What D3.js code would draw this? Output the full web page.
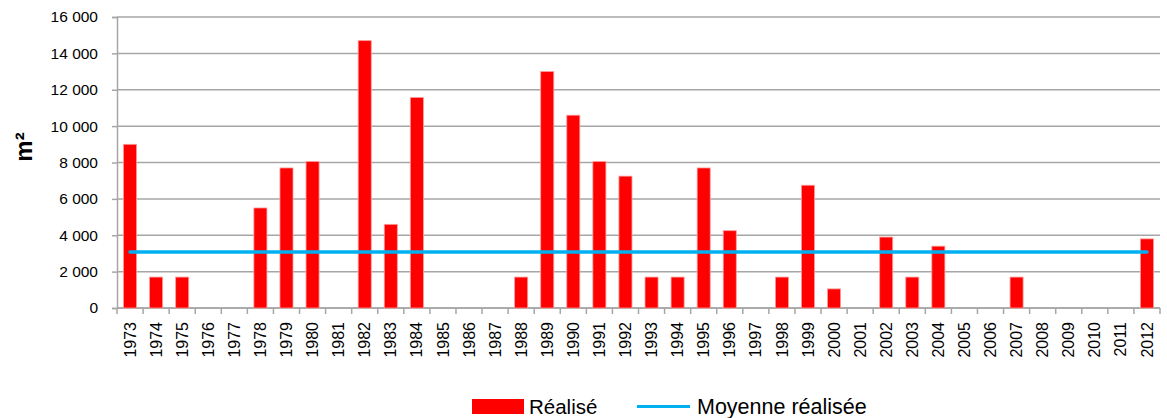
<!DOCTYPE html>
<html><head><meta charset="utf-8">
<script src="https://cdn.jsdelivr.net/npm/d3@7"></script>
<style>body{margin:0;background:#fff}svg{display:block}text{font-family:"Liberation Sans",Arial,sans-serif}</style>
</head><body>
<svg id="c" width="1167" height="418"></svg>
<script>
const years = ["1973","1974","1975","1976","1977","1978","1979","1980","1981","1982","1983","1984","1985","1986","1987","1988","1989","1990","1991","1992","1993","1994","1995","1996","1997","1998","1999","2000","2001","2002","2003","2004","2005","2006","2007","2008","2009","2010","2011","2012"];
const realise = [9000,1700,1700,0,0,5500,7700,8050,0,14700,4600,11570,0,0,0,1700,13000,10600,8050,7250,1700,1700,7700,4250,0,1700,6750,1050,0,3900,1700,3400,0,0,1700,0,0,0,0,3800];
const moyenne = 3080;
const yTicks = [0,2000,4000,6000,8000,10000,12000,14000,16000];
const seriesNames = ["Réalisé","Moyenne réalisée"];
const yTitle = "m²";

const svg = d3.select("#c");
const L = 117, R = 1160, T = 17, B = 308;
const x = d3.scaleBand().domain(years).range([L, R]).paddingInner(0.5).paddingOuter(0.25);
const y = d3.scaleLinear().domain([0, 16000]).range([B, T]);
const loc = d3.formatLocale({decimal: ",", thousands: " ", grouping: [3], currency: ["", ""]});
const fmt = loc.format(",d");
const grid = "#a6a6a6";

// gridlines
svg.append("g").selectAll("line").data(yTicks).join("line")
  .attr("x1", L).attr("x2", R).attr("y1", d => y(d)).attr("y2", d => y(d))
  .attr("stroke", grid).attr("stroke-width", 1.5);

// y axis
const ya = svg.append("g").attr("transform", `translate(${L},0)`)
  .call(d3.axisLeft(y).tickValues(yTicks).tickFormat(fmt).tickSize(5).tickPadding(14));
ya.select(".domain").attr("stroke", grid).attr("stroke-width", 1.5);
ya.selectAll(".tick line").attr("stroke", grid).attr("stroke-width", 1.5);
ya.selectAll("text").attr("font-size", 15.5).attr("fill", "#000").attr("font-family", "Liberation Sans, Arial, sans-serif");

// x axis
const xa = svg.append("g").attr("transform", `translate(0,${B})`)
  .call(d3.axisBottom(x).tickSize(0).tickPadding(0));
xa.select(".domain").attr("stroke", grid).attr("stroke-width", 1.5).attr("d", `M${L},0H${R}`);
xa.selectAll(".tick text")
  .attr("font-size", 16).attr("fill", "#000").attr("font-family", "Liberation Sans, Arial, sans-serif")
  .attr("transform", "rotate(-90)").attr("text-anchor", "end")
  .attr("x", -14).attr("y", 0).attr("dy", "0.35em");
const step = x.step();
const bounds = years.map(d => x(d) - step * x.paddingInner() / 2).concat([R]);
xa.append("g").selectAll("line").data(bounds).join("line")
  .attr("x1", d => d).attr("x2", d => d).attr("y1", 0).attr("y2", 6)
  .attr("stroke", grid).attr("stroke-width", 1.5);

// bars
svg.append("g").selectAll("rect").data(years.map((d, i) => ({year: d, v: realise[i]})).filter(d => d.v > 0))
  .join("rect")
  .attr("x", d => x(d.year)).attr("width", x.bandwidth())
  .attr("y", d => y(d.v)).attr("height", d => y(0) - y(d.v))
  .attr("fill", "#ff0000").attr("stroke", "#ff9a9a").attr("stroke-width", 0.8);

// mean line
const line = d3.line().x(d => x(d) + x.bandwidth() / 2).y(() => y(moyenne));
svg.append("path").datum([years[0], years[years.length - 1]])
  .attr("d", line).attr("fill", "none").attr("stroke", "#00b0f0").attr("stroke-width", 3.5)
  .attr("stroke-linecap", "round");

// y title
svg.append("text").attr("transform", "translate(32,147) rotate(-90)")
  .attr("text-anchor", "middle").attr("font-size", 24).attr("font-weight", "bold").text(yTitle);

// legend
const lg = svg.append("g");
lg.append("rect").attr("x", 472).attr("y", 399).attr("width", 52).attr("height", 15).attr("fill", "#ff0000");
lg.append("text").attr("x", 529).attr("y", 414).attr("font-size", 20.5).text(seriesNames[0]);
lg.append("line").attr("x1", 637).attr("x2", 690).attr("y1", 406.5).attr("y2", 406.5)
  .attr("stroke", "#00b0f0").attr("stroke-width", 3);
lg.append("text").attr("x", 697).attr("y", 414).attr("font-size", 21.5).text(seriesNames[1]);
</script>
</body></html>
